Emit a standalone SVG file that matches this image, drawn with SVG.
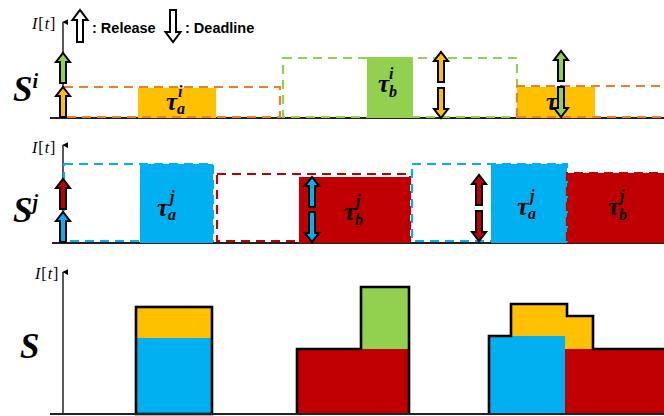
<svg xmlns="http://www.w3.org/2000/svg" xmlns:xlink="http://www.w3.org/1999/xlink" width="664" height="416" viewBox="0 0 664 416">
<style>
.ax{stroke:#000;stroke-width:1.3;fill:none}
.base{stroke:#222;stroke-width:2.2}
.dash{fill:none;stroke-width:2.2;stroke-dasharray:9 6}
.blk{stroke:#000;stroke-width:2;stroke-linejoin:miter}
.out{fill:none;stroke:#000;stroke-width:2.6;stroke-linejoin:miter}
.it{font-family:"Liberation Serif",serif;font-size:16px;fill:#000;letter-spacing:1px}
.i{font-style:italic}
.leg{font-family:"Liberation Sans",Arial,sans-serif;font-weight:bold;font-size:14.5px;fill:#000}
.S{font-family:"Liberation Serif",serif;font-style:italic;font-weight:bold;font-size:35px;fill:#000}
.Ssup{font-size:20px}
.tau{font-family:"Liberation Serif",serif;font-style:italic;font-weight:bold;font-size:25px;fill:#000}
.sm{font-size:16px}
</style>
<defs>
<marker id="ah" viewBox="0 0 8 8" refX="4" refY="1" markerWidth="6" markerHeight="6" orient="auto-start-reverse" markerUnits="userSpaceOnUse"><path d="M0,8 L4,0 L8,8 Z" fill="#000"/></marker>
<path id="up" d="M-3,30 L-3,9 L-7,9 L0,0 L7,9 L3,9 L3,30 Z"/>
<path id="dn" d="M-3,0 L-3,21 L-7,21 L0,30 L7,21 L3,21 L3,0 Z"/>
</defs>

<g id="legend">
<path class="blk" fill="#fff" d="M77,42 L77,20 L72.5,20 L80,10 L87.5,20 L83,20 L83,42 Z"/>
<text class="leg" x="92" y="33">: Release</text>
<path class="blk" fill="#fff" d="M170,10 L170,32 L165.5,32 L173,42 L180.5,32 L176,32 L176,10 Z"/>
<text class="leg" x="185" y="33">: Deadline</text>
</g>

<g id="panel-Si">
<text class="S" x="13" y="101">S<tspan class="Ssup" dy="-13">i</tspan></text>
<line class="base" x1="50" y1="118" x2="664" y2="118"/>
<line class="ax" x1="63" y1="118" x2="63" y2="22" marker-end="url(#ah)"/>
<text class="it" x="32" y="29"><tspan class="i">I</tspan>[<tspan class="i">t</tspan>]</text>
<rect x="138" y="88" width="78" height="30" fill="#FFC000"/>
<rect x="367" y="57" width="46" height="61" fill="#92D050"/>
<rect x="517" y="87" width="78" height="31" fill="#FFC000"/>
<rect class="dash" x="64" y="87" width="216" height="30" stroke="#ED7D31"/>
<rect class="dash" x="283" y="58" width="234" height="59" stroke="#92D050"/>
<path class="dash" d="M517,117 V86 H664 M517,117 H664" stroke="#ED7D31"/>
<text class="tau" x="166" y="110">τ<tspan class="sm" dy="4">a</tspan><tspan class="sm" dx="-7" dy="-17">i</tspan></text>
<text class="tau" x="378" y="92">τ<tspan class="sm" dy="5">b</tspan><tspan class="sm" dx="-8" dy="-18">i</tspan></text>
<text class="tau" x="546" y="110">τ<tspan class="sm" dy="4">a</tspan><tspan class="sm" dx="-7" dy="-17">i</tspan></text>
<use xlink:href="#up" x="63" y="53" fill="#92D050" class="blk"/>
<use xlink:href="#up" x="63" y="87" fill="#FFC000" class="blk"/>
<use xlink:href="#up" x="441" y="52" fill="#FFC000" class="blk"/>
<use xlink:href="#dn" x="441" y="88" fill="#FFC000" class="blk"/>
<use xlink:href="#up" x="561" y="51" fill="#92D050" class="blk"/>
<use xlink:href="#dn" x="561" y="87" fill="#92D050" class="blk"/>
</g>

<g id="panel-Sj">
<text class="S" x="13" y="222">S<tspan class="Ssup" dy="-13">j</tspan></text>
<line class="base" x1="52" y1="243" x2="664" y2="243"/>
<line class="ax" x1="63" y1="243" x2="63" y2="145" marker-end="url(#ah)"/>
<text class="it" x="32" y="153"><tspan class="i">I</tspan>[<tspan class="i">t</tspan>]</text>
<rect x="140" y="164" width="73" height="79" fill="#00B0F0"/>
<rect x="299" y="177" width="111" height="66" fill="#C00000"/>
<rect x="491" y="164" width="76" height="79" fill="#00B0F0"/>
<rect x="567" y="173" width="97" height="70" fill="#C00000"/>
<rect class="dash" x="64" y="164" width="149" height="77" stroke="#00B0F0"/>
<rect class="dash" x="217" y="174" width="193" height="67" stroke="#C00000"/>
<rect class="dash" x="412" y="164" width="155" height="77" stroke="#00B0F0"/>
<path class="dash" d="M567,241 V173 H664" stroke="#C00000"/>
<text class="tau" x="157" y="216">τ<tspan class="sm" dy="4">a</tspan><tspan class="sm" dx="-6" dy="-18">j</tspan></text>
<text class="tau" x="344" y="220">τ<tspan class="sm" dy="5">b</tspan><tspan class="sm" dx="-7" dy="-19">j</tspan></text>
<text class="tau" x="517" y="215">τ<tspan class="sm" dy="4">a</tspan><tspan class="sm" dx="-6" dy="-18">j</tspan></text>
<text class="tau" x="608" y="215">τ<tspan class="sm" dy="5">b</tspan><tspan class="sm" dx="-7" dy="-19">j</tspan></text>
<use xlink:href="#up" x="63" y="179" fill="#C00000" class="blk"/>
<use xlink:href="#up" x="63" y="212" fill="#00B0F0" class="blk"/>
<use xlink:href="#up" x="312" y="177" fill="#00B0F0" class="blk"/>
<use xlink:href="#dn" x="312" y="212" fill="#00B0F0" class="blk"/>
<use xlink:href="#up" x="479" y="175" fill="#C00000" class="blk"/>
<use xlink:href="#dn" x="479" y="211" fill="#C00000" class="blk"/>
</g>

<g id="panel-S">
<text class="S" x="20" y="358">S</text>
<line class="ax" x1="63" y1="414" x2="63" y2="272" marker-end="url(#ah)"/>
<text class="it" x="35" y="279"><tspan class="i">I</tspan>[<tspan class="i">t</tspan>]</text>
<rect x="136" y="307" width="76" height="31" fill="#FFC000"/>
<rect x="136" y="338" width="76" height="76" fill="#00B0F0"/>
<rect class="out" x="136" y="307" width="76" height="107"/>
<rect x="297" y="349" width="112" height="65" fill="#C00000"/>
<rect x="361" y="287" width="48" height="62" fill="#92D050"/>
<path class="out" d="M297,414 V349 H361 V287 H409 V414"/>
<path d="M511,349 V304 H567 V316 H593 V349 Z" fill="#FFC000"/>
<rect x="565" y="349" width="99" height="65" fill="#C00000"/>
<rect x="489" y="336" width="76" height="78" fill="#00B0F0"/>
<path class="out" d="M489,414 V336 H511 V304 H567 V316 H593 V349 H664"/>
<line class="base" x1="50" y1="414" x2="664" y2="414"/>
</g>
</svg>
